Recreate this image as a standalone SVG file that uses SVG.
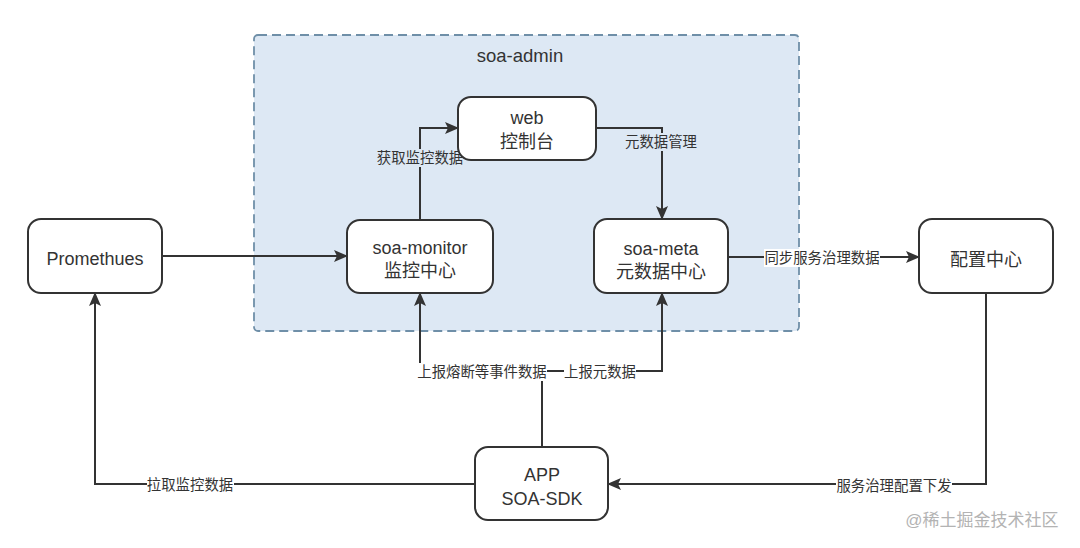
<svg xmlns="http://www.w3.org/2000/svg" width="1080" height="548" viewBox="0 0 1080 548">
<defs>
<style>
.node rect{fill:#fff;stroke:#333;stroke-width:2}
.nt{font-family:"Liberation Sans","Noto Sans CJK SC",sans-serif;font-size:18px;fill:#333;text-anchor:middle;dominant-baseline:central}
.lbl{font-family:"Liberation Sans","Noto Sans CJK SC",sans-serif;font-size:14.4px;fill:#333;text-anchor:middle;dominant-baseline:central}
.edge{fill:none;stroke:#333;stroke-width:2}
</style>
<marker id="arr" markerUnits="userSpaceOnUse" markerWidth="14" markerHeight="12" refX="13" refY="6" orient="auto">
<path d="M0,0 L14,6 L0,12 L3,6 z" fill="#333"/>
</marker>
</defs>
<rect width="1080" height="548" fill="#fff"/>
<g id="soa-admin">
<rect x="254" y="35" width="545" height="296" rx="4" fill="#dde8f4" stroke="#6f8fa8" stroke-width="1.8" stroke-dasharray="9,5"/>
<text x="520" y="55" class="nt" style="font-size:18.5px">soa-admin</text>
</g>
<g id="connectors">
<path class="edge" d="M162,256 H347" marker-end="url(#arr)"/>
<path class="edge" d="M420,219 V128 H458" marker-end="url(#arr)"/>
<path class="edge" d="M596,128 H662 V219" marker-end="url(#arr)"/>
<path class="edge" d="M728,257 H919" marker-end="url(#arr)"/>
<path class="edge" d="M542,447 V371 H420 V293" marker-end="url(#arr)"/>
<path class="edge" d="M542,371 H662 V293" marker-end="url(#arr)"/>
<path class="edge" d="M475,484 H95 V293" marker-end="url(#arr)"/>
<path class="edge" d="M986,293 V484 H608" marker-end="url(#arr)"/>
<rect x="377" y="149" width="86" height="18" fill="#dde8f4"/>
<text x="420" y="158" class="lbl">获取监控数据</text>
<rect x="625" y="133" width="72" height="18" fill="#dde8f4"/>
<text x="661" y="142" class="lbl">元数据管理</text>
<rect x="764" y="249" width="116" height="18" fill="#fff"/>
<text x="822" y="258" class="lbl">同步服务治理数据</text>
<rect x="417" y="363" width="130" height="18" fill="#fff"/>
<text x="482" y="372" class="lbl">上报熔断等事件数据</text>
<rect x="564" y="363" width="72" height="18" fill="#fff"/>
<text x="600" y="372" class="lbl">上报元数据</text>
<rect x="147" y="476" width="87" height="18" fill="#fff"/>
<text x="190" y="485" class="lbl">拉取监控数据</text>
<rect x="836" y="477" width="116" height="18" fill="#fff"/>
<text x="894" y="486" class="lbl">服务治理配置下发</text>
</g>
<g id="promethues" class="node">
<rect x="28" y="219" width="134" height="74" rx="13"/>
<text x="95" y="259" class="nt">Promethues</text>
</g>
<g id="web" class="node">
<rect x="458" y="97" width="138" height="63" rx="13"/>
<text x="527" y="118" class="nt">web</text>
<text x="527" y="142" class="nt">控制台</text>
</g>
<g id="soa-monitor" class="node">
<rect x="347" y="220" width="146" height="73" rx="13"/>
<text x="420" y="248" class="nt">soa-monitor</text>
<text x="420" y="271" class="nt">监控中心</text>
</g>
<g id="soa-meta" class="node">
<rect x="594" y="219" width="134" height="74" rx="13"/>
<text x="661" y="249" class="nt">soa-meta</text>
<text x="661" y="272" class="nt">元数据中心</text>
</g>
<g id="config-center" class="node">
<rect x="919" y="219" width="134" height="74" rx="13"/>
<text x="986" y="260" class="nt">配置中心</text>
</g>
<g id="app" class="node">
<rect x="475" y="447" width="133" height="73" rx="13"/>
<text x="542" y="475" class="nt">APP</text>
<text x="542" y="499" class="nt">SOA-SDK</text>
</g>
<text x="982" y="520" class="nt" style="font-size:17px;fill:#b3b3b3">@稀土掘金技术社区</text>
</svg>
